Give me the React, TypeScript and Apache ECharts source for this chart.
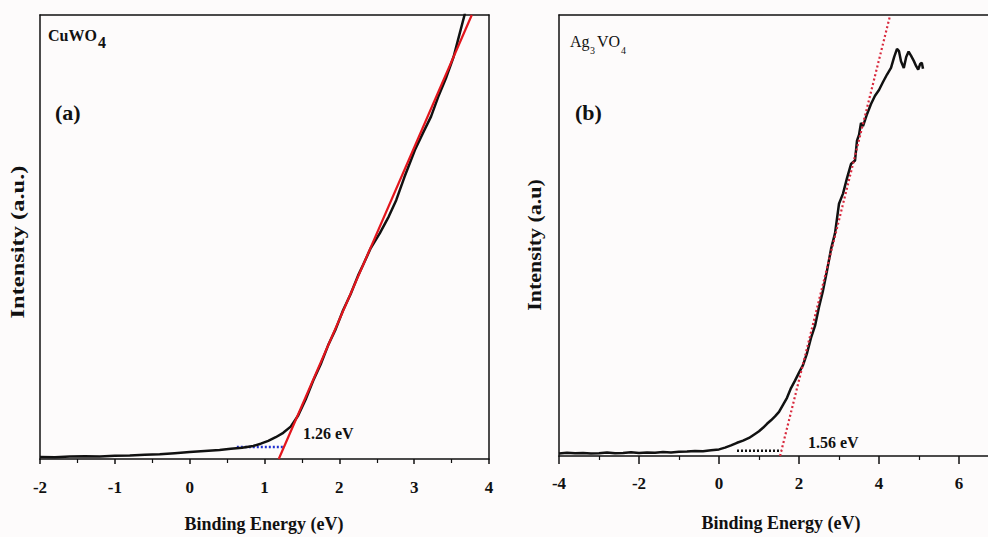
import { useEffect, useRef } from 'react';
import * as echarts from 'echarts';

// Panel (a): CuWO4 valence-band spectrum
const cuwo4Energy = [
  -2.0, -1.8, -1.6, -1.4, -1.2, -1.0, -0.8, -0.6, -0.4, -0.2, 0.0, 0.2, 0.4, 0.55, 0.7, 0.85, 0.95,
  1.05, 1.15, 1.25, 1.35, 1.45, 1.55, 1.65, 1.75, 1.85, 1.95, 2.05, 2.15, 2.25, 2.32, 2.42, 2.54,
  2.66, 2.76, 2.87, 3.01, 3.12, 3.225, 3.32, 3.43, 3.527, 3.58, 3.673, 3.72,
];
const cuwo4Intensity = [
  0.45, 0.42, 0.55, 0.6, 0.58, 0.75, 0.8, 0.95, 1.05, 1.3, 1.55, 1.8, 2.05, 2.3, 2.55, 2.95, 3.45,
  4.1, 4.9, 5.9, 7.3, 9.8, 13.4, 17.6, 21.3, 25.6, 29.2, 33.5, 37.1, 41.3, 43.8, 47.5, 50.8,
  54.6, 58.3, 63.5, 69.6, 73.5, 77.1, 81.5, 86.0, 90.6, 94.0, 100.0, 104,
];
const cuwo4Onset = 1.26;
const cuwo4Baseline = 2.7;
const cuwo4BaselineStart = 0.63;
const cuwo4FitTop = [3.77, 100];

// Panel (b): Ag3VO4 valence-band spectrum
const ag3vo4Energy = [
  -4.0, -3.8, -3.6, -3.4, -3.2, -3.0, -2.8, -2.6, -2.4, -2.2, -2.0, -1.8, -1.6, -1.4, -1.2, -1.0,
  -0.8, -0.6, -0.4, -0.2, 0.0, 0.15, 0.3, 0.45, 0.6, 0.75, 0.9, 1.0, 1.1, 1.2, 1.3, 1.4, 1.5, 1.6,
  1.7, 1.8, 1.9, 2.0, 2.1, 2.2, 2.3, 2.4, 2.5, 2.6, 2.7, 2.8, 2.9, 3.0, 3.1, 3.2, 3.3, 3.4, 3.45,
  3.5, 3.55, 3.6, 3.7, 3.8, 3.9, 4.0, 4.1, 4.2, 4.3, 4.38, 4.45, 4.5, 4.55, 4.62, 4.68, 4.74, 4.8,
  4.87, 4.93, 4.98, 5.03, 5.07, 5.1,
];
const ag3vo4Intensity = [
  0.55, 0.75, 0.6, 0.7, 0.55, 0.65, 0.8, 0.6, 0.7, 0.85, 0.7, 0.8, 0.75, 0.9, 0.8, 0.95,
  1.0, 1.15, 1.1, 1.3, 1.5, 1.9, 2.4, 3.0, 3.5, 4.1, 5.0, 5.6, 6.4, 7.3, 8.1, 9.0, 10.0, 11.6,
  13.2, 15.4, 17.1, 18.9, 20.6, 23.3, 26.8, 29.5, 33.8, 37.5, 42.0, 46.9, 50.5, 57.2, 59.5, 63.0, 66.2, 67.0, 71.5,
  72.8, 75.5, 74.8, 77.5, 79.8, 81.7, 83.0, 84.8, 86.5, 88.0, 90.5, 92.3, 91.8, 89.5, 88.0, 90.5, 91.7, 90.8,
  89.6, 88.4, 87.6, 88.9, 89.2, 87.8,
];
const ag3vo4Onset = 1.56;
const ag3vo4Baseline = 1.2;
const ag3vo4BaselineStart = 0.45;
const ag3vo4FitTop = [4.28, 100];

const axisTitle = 'Binding Energy (eV)';
const FONT = '"Liberation Serif", "Times New Roman", serif';

const zip = (xs: number[], ys: number[]) => xs.map((x, i) => [x, ys[i]]);

// Tangent through the onset point and the upper fit point, extended down to zero intensity
const tangent = (onset: number, base: number, top: number[]) => {
  const x0 = onset - (base * (top[0] - onset)) / (top[1] - base);
  return [[x0, 0], [onset, base], top];
};

const lineAxis = (extra: object) => ({
  type: 'value',
  axisLine: { show: true, onZero: false, lineStyle: { color: '#111', width: 1.5 } },
  axisTick: { show: false },
  axisLabel: { show: false },
  splitLine: { show: false },
  ...extra,
});

const labelStyle = { color: '#111', fontFamily: FONT, fontWeight: 'bold', fontSize: 17 };

export default function App() {
  const ref = useRef<HTMLDivElement>(null);

  useEffect(() => {
    if (!ref.current) return;
    const chart = echarts.init(ref.current, null, { renderer: 'svg' });

    const text = (x: number, y: number, t: string, size: number, bold = true) => ({
      type: 'text',
      x,
      y,
      style: {
        text: t,
        fill: '#111',
        font: `${bold ? 'bold ' : ''}${size}px ${FONT}`,
        verticalAlign: 'middle',
        align: 'left',
      },
    });

    const yTitle = (x: number, y: number, t: string, stretch: number) => ({
      type: 'text',
      x,
      y,
      rotation: Math.PI / 2,
      scaleX: stretch,
      style: { text: t, fill: '#111', font: `bold 18px ${FONT}`, align: 'center', verticalAlign: 'middle' },
    });

    chart.setOption({
      animation: false,
      backgroundColor: '#fdfbfb',
      grid: [
        { left: 40, top: 15, width: 449, height: 444 },
        { left: 559, top: 15, width: 480, height: 441 },
      ],
      xAxis: [
        lineAxis({
          gridIndex: 0,
          position: 'bottom',
          min: -2,
          max: 4,
          interval: 1,
          axisTick: { show: true, length: 5, lineStyle: { color: '#111', width: 1.5 } },
          minorTick: { show: true, splitNumber: 2, length: 4, lineStyle: { color: '#111', width: 1.2 } },
          axisLabel: { show: true, margin: 20, ...labelStyle },
        }),
        lineAxis({ gridIndex: 0, position: 'top', min: -2, max: 4 }),
        lineAxis({
          gridIndex: 1,
          position: 'bottom',
          min: -4,
          max: 8,
          interval: 2,
          axisTick: { show: true, length: 8, lineStyle: { color: '#111', width: 1.5 } },
          minorTick: { show: true, splitNumber: 2, length: 4, lineStyle: { color: '#111', width: 1.2 } },
          axisLabel: { show: true, margin: 19, showMaxLabel: false, ...labelStyle },
        }),
        lineAxis({ gridIndex: 1, position: 'top', min: -4, max: 8 }),
      ],
      yAxis: [
        lineAxis({ gridIndex: 0, position: 'left', min: 0, max: 100 }),
        lineAxis({ gridIndex: 0, position: 'right', min: 0, max: 100 }),
        lineAxis({ gridIndex: 1, position: 'left', min: 0, max: 100 }),
      ],
      series: [
        {
          type: 'line',
          xAxisIndex: 0,
          yAxisIndex: 0,
          data: [[cuwo4BaselineStart, cuwo4Baseline], [cuwo4Onset, cuwo4Baseline]],
          showSymbol: false,
          lineStyle: { color: '#2030d0', width: 2.5, type: [2, 2] },
        },
        {
          type: 'line',
          xAxisIndex: 0,
          yAxisIndex: 0,
          data: zip(cuwo4Energy, cuwo4Intensity),
          showSymbol: false,
          lineStyle: { color: '#111', width: 2.5 },
        },
        {
          type: 'line',
          xAxisIndex: 0,
          yAxisIndex: 0,
          data: tangent(cuwo4Onset, cuwo4Baseline, cuwo4FitTop),
          showSymbol: false,
          lineStyle: { color: '#e3161d', width: 2.2 },
        },
        {
          type: 'line',
          xAxisIndex: 2,
          yAxisIndex: 2,
          data: [[ag3vo4BaselineStart, ag3vo4Baseline], [ag3vo4Onset, ag3vo4Baseline]],
          showSymbol: false,
          lineStyle: { color: '#111', width: 2.5, type: [2, 2] },
        },
        {
          type: 'line',
          xAxisIndex: 2,
          yAxisIndex: 2,
          data: zip(ag3vo4Energy, ag3vo4Intensity),
          showSymbol: false,
          lineStyle: { color: '#111', width: 2.5 },
        },
        {
          type: 'line',
          xAxisIndex: 2,
          yAxisIndex: 2,
          data: tangent(ag3vo4Onset, ag3vo4Baseline, ag3vo4FitTop),
          showSymbol: false,
          lineStyle: { color: '#d8283c', width: 2.2, type: [2, 2.5] },
        },
      ],
      graphic: [
        text(48, 35, 'CuWO', 16),
        text(98, 42, '4', 16),
        text(55, 112, '(a)', 22),
        text(570, 41, 'Ag', 16, false),
        text(590, 50, '3', 10, false),
        text(597, 41, 'VO', 16, false),
        text(621, 50, '4', 10, false),
        text(575, 112, '(b)', 22),
        text(303, 433, `${cuwo4Onset.toFixed(2)} eV`, 16),
        text(808, 442, `${ag3vo4Onset.toFixed(2)} eV`, 16),
        {
          type: 'text',
          x: 264,
          y: 524,
          style: { text: axisTitle, fill: '#111', font: `bold 18px ${FONT}`, align: 'center', verticalAlign: 'middle' },
        },
        {
          type: 'text',
          x: 781,
          y: 523,
          style: { text: axisTitle, fill: '#111', font: `bold 18px ${FONT}`, align: 'center', verticalAlign: 'middle' },
        },
        yTitle(18, 242, 'Intensity (a.u.)', 1.36),
        yTitle(535, 245, 'Intensity (a.u)', 1.22),
      ],
    });

    return () => chart.dispose();
  }, []);

  // The chart canvas runs past the right edge so the second panel's axis continues off-page
  return <div ref={ref} style={{ position: 'fixed', left: 0, top: 0, width: 1040, height: 537 }} />;
}
